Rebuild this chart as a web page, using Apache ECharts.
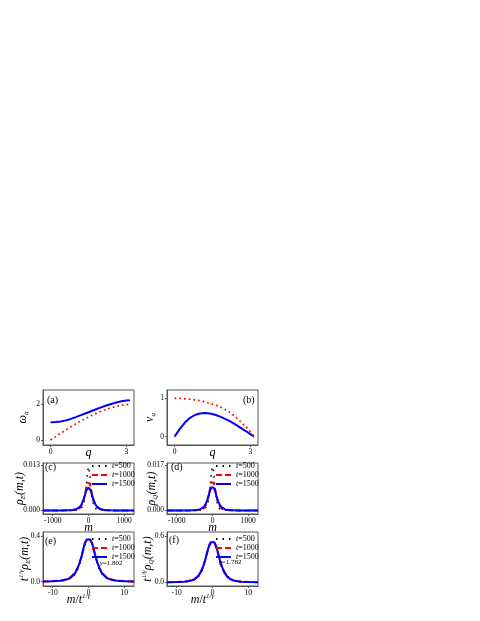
<!DOCTYPE html>
<html>
<head>
<meta charset="utf-8">
<script src="https://cdn.jsdelivr.net/npm/echarts@6.0.0/dist/echarts.min.js"></script>
<style>
  html, body { margin: 0; padding: 0; background: #fff; }
  #chart { width: 480px; height: 621px; }
</style>
</head>
<body>
<div id="chart"></div>
<script>
const FONT = '"Liberation Serif", "DejaVu Serif", serif';

// (a)(b) 色散关系与群速度
const qVals = [0, 0.2, 0.4, 0.6, 0.8, 1.0, 1.2, 1.4, 1.6, 1.8, 2.0, 2.2, 2.4, 2.6, 2.8, 3.0, 3.14];
const omegaDotted = [0, 0.19, 0.38, 0.56, 0.74, 0.91, 1.07, 1.22, 1.36, 1.49, 1.61, 1.71, 1.80, 1.88, 1.94, 1.98, 2.0];
const omegaSolid = [1.00, 1.01, 1.04, 1.10, 1.18, 1.28, 1.39, 1.50, 1.61, 1.72, 1.83, 1.93, 2.02, 2.10, 2.17, 2.21, 2.23];
const velDotted = [1.0, 1.0, 0.99, 0.98, 0.96, 0.94, 0.91, 0.87, 0.83, 0.78, 0.71, 0.63, 0.52, 0.40, 0.27, 0.13, 0.0];
const velSolid = [0, 0.195, 0.36, 0.485, 0.565, 0.605, 0.618, 0.604, 0.572, 0.524, 0.464, 0.396, 0.319, 0.237, 0.152, 0.063, 0];

// (c)(d) 不同时刻的分布
const tNames = ['t=500', 't=1000', 't=1500'];
const mVals = [-1270, -1000, -800, -600, -450, -350, -250, -200, -150, -100, -60, -30, 0, 30, 60, 100, 150, 200, 250, 350, 450, 600, 800, 1000, 1270];
const rhoE500 = [0, 0.00001, 0.00001, 0.00002, 0.00005, 0.0001, 0.00025, 0.00054, 0.0013, 0.0036, 0.0074, 0.0109, 0.0125, 0.0109, 0.0074, 0.0036, 0.0013, 0.00054, 0.00025, 0.0001, 0.00005, 0.00002, 0.00001, 0.00001, 0];
const rhoE1000 = [0.00001, 0.00001, 0.00002, 0.00004, 0.0001, 0.00021, 0.00063, 0.0012, 0.0023, 0.0044, 0.0067, 0.0078, 0.0081, 0.0078, 0.0067, 0.0044, 0.0023, 0.0012, 0.00063, 0.00021, 0.0001, 0.00004, 0.00002, 0.00001, 0.00001];
const rhoE1500 = [0.00001, 0.00002, 0.00003, 0.00006, 0.00016, 0.00034, 0.00095, 0.0016, 0.0028, 0.00445, 0.0058, 0.00637, 0.00656, 0.00637, 0.0058, 0.00445, 0.0028, 0.0016, 0.00095, 0.00034, 0.00016, 0.00006, 0.00003, 0.00002, 0.00001];
const rhoQ500 = [0, 0.00001, 0.00001, 0.00002, 0.00005, 0.00011, 0.00029, 0.00064, 0.0017, 0.0047, 0.0101, 0.0146, 0.0164, 0.0146, 0.0101, 0.0047, 0.0017, 0.00064, 0.00029, 0.00011, 0.00005, 0.00002, 0.00001, 0.00001, 0];
const rhoQ1000 = [0.00001, 0.00001, 0.00002, 0.00005, 0.00011, 0.00025, 0.00075, 0.00153, 0.0031, 0.0060, 0.0090, 0.0105, 0.0111, 0.0105, 0.0090, 0.0060, 0.0031, 0.00153, 0.00075, 0.00025, 0.00011, 0.00005, 0.00002, 0.00001, 0.00001];
const rhoQ1500 = [0.00001, 0.00002, 0.00003, 0.00007, 0.00018, 0.00043, 0.00124, 0.0022, 0.00368, 0.0060, 0.00777, 0.00858, 0.00883, 0.00858, 0.00777, 0.0060, 0.00368, 0.0022, 0.00124, 0.00043, 0.00018, 0.00007, 0.00003, 0.00002, 0.00001];

// (e)(f) 标度化后的分布
const sVals = [-12.7, -10, -8, -7, -6, -5, -4, -3.5, -3, -2.5, -2, -1.5, -1, -0.5, 0, 0.5, 1, 1.5, 2, 2.5, 3, 3.5, 4, 5, 6, 7, 8, 10, 12.7];
const scE500 = [0.0015, 0.003, 0.006, 0.01, 0.016, 0.029, 0.056, 0.079, 0.11, 0.15, 0.2, 0.268, 0.33, 0.37, 0.385, 0.37, 0.33, 0.268, 0.2, 0.15, 0.11, 0.079, 0.056, 0.029, 0.016, 0.01, 0.006, 0.003, 0.0015];
const scE1000 = [0.002, 0.005, 0.009, 0.014, 0.023, 0.04, 0.07, 0.094, 0.125, 0.165, 0.212, 0.275, 0.333, 0.362, 0.372, 0.362, 0.333, 0.275, 0.212, 0.165, 0.125, 0.094, 0.07, 0.04, 0.023, 0.014, 0.009, 0.005, 0.002];
const scE1500 = [0.002, 0.004, 0.008, 0.012, 0.02, 0.035, 0.064, 0.088, 0.122, 0.165, 0.215, 0.28, 0.34, 0.37, 0.38, 0.37, 0.34, 0.28, 0.215, 0.165, 0.122, 0.088, 0.064, 0.035, 0.02, 0.012, 0.008, 0.004, 0.002];
const scQ500 = [0.0015, 0.003, 0.006, 0.011, 0.018, 0.034, 0.07, 0.1, 0.145, 0.205, 0.285, 0.38, 0.465, 0.52, 0.54, 0.52, 0.465, 0.38, 0.285, 0.205, 0.145, 0.1, 0.07, 0.034, 0.018, 0.011, 0.006, 0.003, 0.0015];
const scQ1000 = [0.002, 0.0045, 0.009, 0.014, 0.024, 0.044, 0.084, 0.118, 0.162, 0.218, 0.292, 0.38, 0.46, 0.51, 0.525, 0.51, 0.46, 0.38, 0.292, 0.218, 0.162, 0.118, 0.084, 0.044, 0.024, 0.014, 0.009, 0.0045, 0.002];
const scQ1500 = [0.002, 0.004, 0.008, 0.013, 0.022, 0.04, 0.08, 0.115, 0.16, 0.22, 0.30, 0.39, 0.47, 0.52, 0.535, 0.52, 0.47, 0.39, 0.30, 0.22, 0.16, 0.115, 0.08, 0.04, 0.022, 0.013, 0.008, 0.004, 0.002];

// 刻度
const qTicks = [0, 3];
const omegaTicks = [0, 2];
const velTicks = [0, 1];
const mTicks = [-1000, 0, 1000];
const rhoETicks = [0, 0.013];
const rhoETickLabels = ['0.000', '0.013'];
const rhoQTicks = [0, 0.017];
const rhoQTickLabels = ['0.000', '0.017'];
const sTicks = [-10, 0, 10];
const scETicks = [0, 0.4];
const scETickLabels = ['0.0', '0.4'];
const scQTicks = [0, 0.6];
const scQTickLabels = ['0.0', '0.6'];
const gammaE = '1.802';
const gammaQ = '1.782';

const RICH = {
  n: { fontFamily: FONT, fontSize: 12, lineHeight: 14, color: '#000' },
  i: { fontFamily: FONT, fontSize: 12, lineHeight: 14, fontStyle: 'italic', color: '#000' },
  sub: { fontFamily: FONT, fontSize: 7, lineHeight: 7, fontStyle: 'italic', verticalAlign: 'bottom', color: '#000' },
  sup: { fontFamily: FONT, fontSize: 7, lineHeight: 7, fontStyle: 'italic', verticalAlign: 'top', color: '#000' }
};

const pairs = (xs, ys) => xs.map((x, k) => [x, ys[k]]);

const tickFmt = (ticks, labels) => v => {
  const k = ticks.findIndex(t => Math.abs(t - v) < 1e-9);
  return k >= 0 ? String(labels[k]) : '';
};

const makeAxis = (gi, min, max, ticks, labels, name, gap, pad) => ({
  type: 'value', gridIndex: gi, min: min, max: max,
  name: name, nameLocation: 'middle', nameGap: gap, nameMoveOverlap: false,
  nameTextStyle: { fontFamily: FONT, fontSize: 12, color: '#000', rich: RICH, padding: pad || 0 },
  axisLine: { show: true, onZero: false, lineStyle: { color: '#555', width: 1 } },
  axisTick: { show: true, length: 2, customValues: ticks, lineStyle: { color: '#555' } },
  axisLabel: { customValues: ticks, formatter: tickFmt(ticks, labels), margin: 3, fontFamily: FONT, fontSize: 7.5, color: '#000' },
  splitLine: { show: false }
});

const grids = [
  { left: 43, top: 390, width: 91, height: 55 },
  { left: 167, top: 390, width: 91, height: 55 },
  { left: 43, top: 463, width: 91, height: 51 },
  { left: 167, top: 463, width: 91, height: 51 },
  { left: 43, top: 532, width: 91, height: 54 },
  { left: 167, top: 532, width: 91, height: 54 }
].map(g => Object.assign({ show: true, borderColor: '#555', borderWidth: 1, containLabel: false }, g));

const xAxes = [
  makeAxis(0, -0.3, 3.3, qTicks, qTicks, '{i|q}', 1),
  makeAxis(1, -0.3, 3.3, qTicks, qTicks, '{i|q}', 1),
  makeAxis(2, -1270, 1270, mTicks, mTicks, '{i|m}', 7),
  makeAxis(3, -1270, 1270, mTicks, mTicks, '{i|m}', 7),
  makeAxis(4, -12.7, 12.7, sTicks, sTicks, '{i|m}{n|/}{i|t}{sup|1/γ}', 7, [0, 20, 0, 0]),
  makeAxis(5, -12.7, 12.7, sTicks, sTicks, '{i|m}{n|/}{i|t}{sup|1/γ}', 7, [0, 20, 0, 0])
];

const yAxes = [
  makeAxis(0, -0.28, 2.8, omegaTicks, omegaTicks, '{i|ω}{sub|q}', 13),
  makeAxis(1, -0.22, 1.22, velTicks, velTicks, '{i|v}{sub|q}', 10),
  makeAxis(2, -0.001, 0.0136, rhoETicks, rhoETickLabels, '{i|ρ}{sub|E}{i|(m,t)}', 16),
  makeAxis(3, -0.0013, 0.0178, rhoQTicks, rhoQTickLabels, '{i|ρ}{sub|Q}{i|(m,t)}', 8),
  makeAxis(4, -0.038, 0.435, scETicks, scETickLabels, '{i|t}{sup|1/γ}{i|ρ}{sub|E}{i|(m,t)}', 11),
  makeAxis(5, -0.048, 0.652, scQTicks, scQTickLabels, '{i|t}{sup|1/γ}{i|ρ}{sub|Q}{i|(m,t)}', 12)
];

const STYLE = {
  redDot: { color: '#ff0000', width: 1.7, type: [1.7, 3] },
  blue: { color: '#0000ff', width: 2, type: 'solid' },
  black: { color: '#000000', width: 1.5, type: [1.5, 5] },
  red: { color: '#ff0000', width: 2, type: [6, 3] }
};

const line = (gi, name, xs, ys, style, z) => ({
  type: 'line', name: name, xAxisIndex: gi, yAxisIndex: gi,
  data: pairs(xs, ys), symbol: 'none', showSymbol: false, smooth: false,
  itemStyle: { color: style.color },
  lineStyle: style, z: z || 2, silent: true
});

const series = [
  line(0, 'omega-dotted', qVals, omegaDotted, STYLE.redDot),
  line(0, 'omega-solid', qVals, omegaSolid, STYLE.blue),
  line(1, 'v-solid', qVals, velSolid, STYLE.blue),
  line(1, 'v-dotted', qVals, velDotted, STYLE.redDot, 3),
  line(2, tNames[0], mVals, rhoE500, STYLE.black),
  line(2, tNames[1], mVals, rhoE1000, STYLE.red),
  line(2, tNames[2], mVals, rhoE1500, STYLE.blue),
  line(3, tNames[0], mVals, rhoQ500, STYLE.black),
  line(3, tNames[1], mVals, rhoQ1000, STYLE.red),
  line(3, tNames[2], mVals, rhoQ1500, STYLE.blue),
  line(4, tNames[0], sVals, scE500, STYLE.black),
  line(4, tNames[1], sVals, scE1000, STYLE.red),
  line(4, tNames[2], sVals, scE1500, STYLE.blue),
  line(5, tNames[0], sVals, scQ500, STYLE.black),
  line(5, tNames[1], sVals, scQ1000, STYLE.red),
  line(5, tNames[2], sVals, scQ1500, STYLE.blue)
];

// 图例（只画线，不画符号）
const legendAt = (left, top) => ({
  orient: 'vertical', left: left, top: top, padding: 0, itemGap: 1,
  itemWidth: 15, itemHeight: 6, selectedMode: false,
  data: tNames,
  itemStyle: { opacity: 0 },
  formatter: n => '{i|t}' + n.slice(1),
  textStyle: {
    fontFamily: FONT, fontSize: 8, lineHeight: 7.5, color: '#000',
    rich: { i: { fontFamily: FONT, fontSize: 8, fontStyle: 'italic', color: '#000' } }
  }
});

// 面板标签
const label = (text, left, top, size) => ({
  text: text, left: left, top: top, padding: 0,
  textStyle: {
    fontFamily: FONT, fontSize: size || 10, fontWeight: 'normal', color: '#000',
    rich: { g: { fontFamily: FONT, fontSize: size || 10, fontStyle: 'italic', color: '#000' } }
  }
});

const chart = echarts.init(document.getElementById('chart'), null, { renderer: 'canvas' });
chart.setOption({
  backgroundColor: '#ffffff',
  animation: false,
  textStyle: { fontFamily: FONT },
  grid: grids,
  xAxis: xAxes,
  yAxis: yAxes,
  series: series,
  legend: [legendAt(91, 462), legendAt(215, 462), legendAt(91, 535), legendAt(215, 535)],
  title: [
    label('(a)', 47, 395),
    label('(b)', 243, 395),
    label('(c)', 45, 462),
    label('(d)', 171, 462),
    label('(e)', 45, 536),
    label('(f)', 169, 535),
    label('{g|γ}=' + gammaE, 100, 560, 7),
    label('{g|γ}=' + gammaQ, 219, 559, 7)
  ]
});
</script>
</body>
</html>
